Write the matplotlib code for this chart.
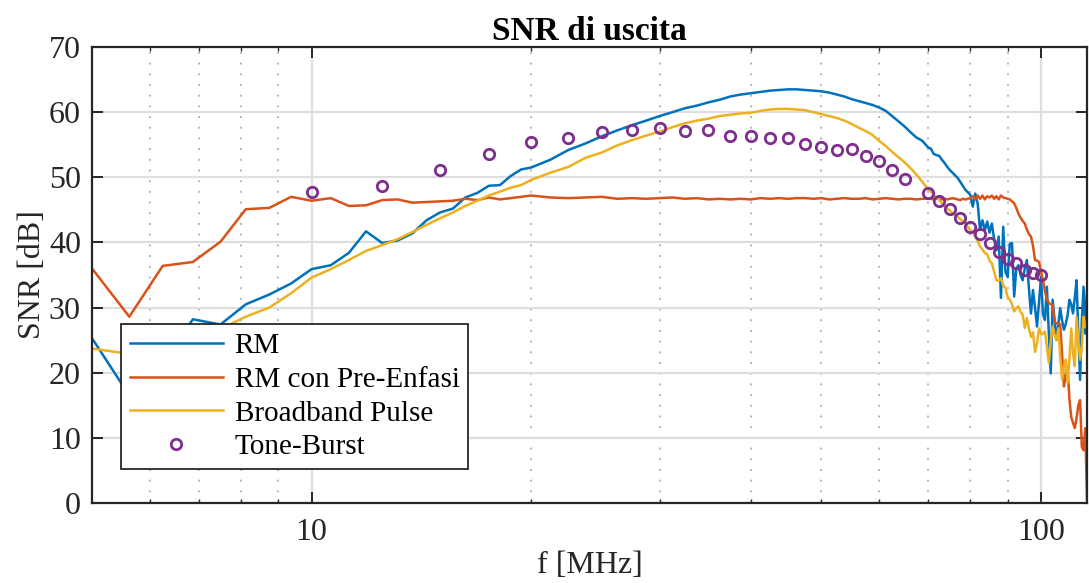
import numpy as np
import matplotlib
matplotlib.use("Agg")
import matplotlib.pyplot as plt
from matplotlib.ticker import FixedLocator, FixedFormatter, NullFormatter

plt.rcParams['font.family'] = ['Liberation Serif', 'DejaVu Serif']
plt.rcParams['mathtext.fontset'] = 'stix'

# Frequency grid [MHz]: fine at low/high end, coarser in the smooth middle band
freq_lo = [5, 5.625, 6.25, 6.875, 7.5, 8.125, 8.75, 9.375, 10, 10.625, 11.25,
           11.875, 12.5, 13.125, 13.75, 14.375, 15, 15.625, 16.25, 16.875, 17.5,
           18.125, 18.75, 19.375, 20]
freq_mid = [21.25, 22.5, 23.75, 25, 26.25, 27.5, 28.75, 30, 31.25, 32.5, 33.75,
            35, 36.25, 37.5, 38.75, 40, 41.25, 42.5, 43.75, 45, 46.25, 47.5,
            48.75, 50, 51.25, 52.5, 53.75, 55, 56.25, 57.5, 58.75, 60, 61.25,
            62.5, 63.75, 65, 66.25, 67.5, 68.75, 70]
freq_hi = [70.625, 71.25, 71.875, 72.5, 73.125, 73.75, 74.375, 75, 75.625, 76.25,
           76.875, 77.5, 78.125, 78.75, 79.375, 80, 80.625, 81.25, 81.875, 82.5,
           83.125, 83.75, 84.375, 85, 85.625, 86.25, 86.875, 87.5, 88.125, 88.75,
           89.375, 90, 90.625, 91.25, 91.875, 92.5, 93.125, 93.75, 94.375, 95,
           95.625, 96.25, 96.875, 97.5, 98.125, 98.75, 99.375, 100, 100.625,
           101.25, 101.875, 102.5, 103.125, 103.75, 104.375, 105, 105.625, 106.25,
           106.875, 107.5, 108.125, 108.75, 109.375, 110, 110.625, 111.25, 111.875,
           112.5, 113.125, 113.75, 114.375, 115, 115.625]

# SNR [dB] - RM
snr_rm_lo = [25.3, 16.5, 21.5, 28.2, 27.4, 30.5, 32.0, 33.7, 35.9, 36.5, 38.4,
             41.7, 39.9, 40.3, 41.4, 43.4, 44.6, 45.2, 46.9, 47.6, 48.7, 48.8,
             50.2, 51.2, 51.5]
snr_rm_mid = [52.7, 54.2, 55.2, 56.3, 57.2, 58.0, 58.7, 59.4, 60.0, 60.6, 61.0,
              61.5, 61.9, 62.4, 62.7, 62.9, 63.1, 63.3, 63.4, 63.5, 63.5, 63.4,
              63.3, 63.2, 63.0, 62.7, 62.4, 62.0, 61.7, 61.4, 61.1, 60.7, 60.2,
              59.4, 58.6, 57.8, 56.9, 56.1, 55.6, 54.6]
snr_rm_hi = [54.4, 53.6, 53.4, 53.3, 52.7, 52.2, 51.6, 51.1, 50.7, 50.3, 49.9,
             49.3, 48.7, 48.1, 47.7, 47.3, 45.5, 47.5, 46.0, 41.9, 43.4, 41.9,
             43.2, 41.5, 42.9, 40.5, 38.8, 40.9, 31.5, 42.4, 35.5, 34.7, 39.8,
             39.9, 31.7, 36.0, 36.5, 35.0, 34.2, 36.0, 37.3, 33.0, 29.1, 32.7,
             30.0, 27.1, 31.0, 34.7, 29.0, 28.1, 33.2, 26.0, 19.9, 31.2, 28.0,
             25.0, 27.5, 29.9, 28.0, 26.6, 27.5, 28.8, 31.2, 30.5, 29.1, 31.5,
             34.2, 26.0, 18.9, 28.0, 33.2, 26.0, 32.7]

# SNR [dB] - RM con Pre-Enfasi
snr_pre_lo = [36.0, 28.6, 36.4, 37.0, 40.1, 45.1, 45.3, 47.0, 46.4, 46.8, 45.6,
              45.7, 46.5, 46.6, 46.1, 46.2, 46.3, 46.4, 46.7, 46.5, 46.9, 46.6,
              46.8, 47.0, 47.2]
snr_pre_mid = [46.9, 46.8, 46.9, 47.0, 46.7, 46.8, 46.7, 46.8, 46.9, 46.7,
               46.8, 46.6, 46.7, 46.6, 46.7, 46.6, 46.8, 46.7, 46.8, 46.7,
               46.8, 46.8, 46.7, 46.8, 46.6, 46.7, 46.8, 46.7, 46.7, 46.8,
               46.6, 46.7, 46.8, 46.7, 46.6, 46.7, 46.7, 46.6, 46.7, 46.7]
snr_pre_hi = [46.7, 46.6, 46.7, 46.8, 46.6, 46.7, 46.6, 46.7, 46.8, 46.7, 46.6,
              46.5, 46.7, 46.6, 46.7, 46.8,
              47.1, 46.6, 47.2, 46.7, 47.2, 46.6, 47.1, 46.9, 47.2, 46.7, 47.1,
              46.6, 47.2, 46.9, 46.8, 46.7, 46.6, 46.3,
              46.0, 45.3, 44.4, 43.8, 43.3, 42.9, 42.0, 41.3, 40.9, 39.5, 37.3,
              37.2, 37.0, 35.5, 34.2, 32.5, 31.3, 30.7, 30.5, 30.4, 27.8, 27.6,
              27.5, 27.4, 23.0, 17.9, 19.5, 20.9, 16.0, 13.2, 12.3, 11.5, 13.0,
              15.0, 15.8, 8.6, 8.1, 11.5, 0.5]

# SNR [dB] - Broadband Pulse
snr_bb_lo = [23.7, 22.9, 24.3, 25.5, 26.7, 28.6, 30.0, 32.2, 34.6, 35.9, 37.3,
             38.7, 39.6, 40.5, 41.6, 42.7, 43.7, 44.6, 45.6, 46.4, 47.2, 47.8,
             48.4, 48.8, 49.6]
snr_bb_mid = [50.7, 51.6, 53.0, 53.8, 54.9, 55.7, 56.4, 57.0, 57.7, 58.3, 58.7,
              59.0, 59.4, 59.6, 59.8, 59.9, 60.2, 60.4, 60.5, 60.5, 60.4, 60.3,
              60.0, 59.7, 59.4, 59.1, 58.7, 58.2, 57.6, 57.1, 56.5, 55.6, 54.8,
              53.9, 53.1, 52.3, 51.4, 50.4, 49.3, 48.2]
snr_bb_hi = [47.8, 47.3, 46.8, 46.6, 46.0, 45.6, 45.2, 44.9, 44.5, 44.2, 43.9,
             43.6, 43.2, 42.9, 42.4, 41.9, 41.5, 40.9, 40.2, 39.4, 38.9, 38.4,
             38.2, 37.2, 36.8, 35.5, 34.2, 34.1, 34.5, 33.4, 33.0, 31.6, 31.2,
             30.5, 29.4, 29.9, 30.2, 29.3, 28.9, 26.9, 28.4, 26.8, 25.5, 26.2,
             23.2, 24.5, 26.8, 25.9, 26.0, 26.3, 24.0, 21.5, 24.8, 27.1, 25.8,
             25.0, 26.8, 22.5, 18.9, 21.0, 22.0, 18.5, 22.0, 26.8, 23.0, 21.0,
             28.5, 25.0, 22.0, 24.0, 28.6, 27.0, 27.1]

# Tone-Burst measurements
freq_tb = [10, 12.5, 15, 17.5, 20, 22.5, 25, 27.5, 30, 32.5, 35, 37.5, 40, 42.5,
           45, 47.5, 50, 52.5, 55, 57.5, 60, 62.5, 65, 70, 72.5, 75, 77.5, 80,
           82.5, 85, 87.5, 90, 92.5, 95, 97.5, 100]
snr_tb = [47.7, 48.7, 51.1, 53.6, 55.4, 56.0, 56.9, 57.2, 57.5, 57.1, 57.2, 56.4,
          56.4, 56.0, 56.1, 55.1, 54.6, 54.2, 54.3, 53.3, 52.5, 51.1, 49.7, 47.6,
          46.3, 45.2, 43.8, 42.4, 41.3, 39.9, 38.5, 37.4, 36.8, 35.7, 35.3, 35.0]

x_major = [10, 100]
x_major_labels = ['10', '100']
x_minor = [6, 7, 8, 9, 20, 30, 40, 50, 60, 70, 80, 90]
y_ticks = [0, 10, 20, 30, 40, 50, 60, 70]

freq = np.array(freq_lo + freq_mid + freq_hi)
snr_rm = np.array(snr_rm_lo + snr_rm_mid + snr_rm_hi)
snr_pre = np.array(snr_pre_lo + snr_pre_mid + snr_pre_hi)
snr_bb = np.array(snr_bb_lo + snr_bb_mid + snr_bb_hi)

fig = plt.figure(figsize=(10.89, 5.83), dpi=100)
ax = fig.add_axes([92 / 1089, 80 / 583, 995 / 1089, 456 / 583])

ax.plot(freq, snr_rm, color='#0072BD', lw=1.8, label='RM')
ax.plot(freq, snr_pre, color='#D95319', lw=1.8, label='RM con Pre-Enfasi')
ax.plot(freq, snr_bb, color='#EDB120', lw=1.8, label='Broadband Pulse')
ax.plot(freq_tb, snr_tb, ls='none', marker='o', ms=7.5, mfc='none',
        mec='#7E2F8E', mew=2.0, label='Tone-Burst')

ax.set_xscale('log')
ax.set_xlim(5, 115.625)
ax.set_ylim(0, 70)
ax.xaxis.set_major_locator(FixedLocator(x_major))
ax.xaxis.set_major_formatter(FixedFormatter(x_major_labels))
ax.xaxis.set_minor_locator(FixedLocator(x_minor))
ax.xaxis.set_minor_formatter(NullFormatter())
ax.yaxis.set_major_locator(FixedLocator(y_ticks))

ax.set_axisbelow(True)
ax.grid(which='major', color='#dedede', lw=1.6, ls='-')
ax.grid(which='minor', axis='x', color='#b5b5b5', lw=1.4, ls=(0, (1, 4.5)))

for sp in ax.spines.values():
    sp.set_color('#262626')
    sp.set_linewidth(1.6)
ax.tick_params(which='both', direction='in', top=True, right=True,
               colors='#262626', labelsize=23)
ax.tick_params(which='major', length=8, width=1.4, pad=8)
ax.tick_params(axis='x', which='major', pad=11)
ax.tick_params(which='minor', length=3, width=1.0)

ax.set_xlabel('f [MHz]', fontsize=23, color='#262626', labelpad=3)
ax.set_ylabel('SNR [dB]', fontsize=23, color='#262626', labelpad=1)
ax.set_title('SNR di uscita', fontsize=24, fontweight='bold', color='black', pad=3)

leg = ax.legend(loc='lower left', bbox_to_anchor=(0.029, 0.0746), borderaxespad=0,
                fontsize=21, handlelength=3.2, handletextpad=0.4,
                labelspacing=0.25, borderpad=0.3, fancybox=False,
                framealpha=1, edgecolor='#262626', numpoints=1)
leg.get_frame().set_linewidth(1.3)

fig.savefig('out.png', dpi=100)
